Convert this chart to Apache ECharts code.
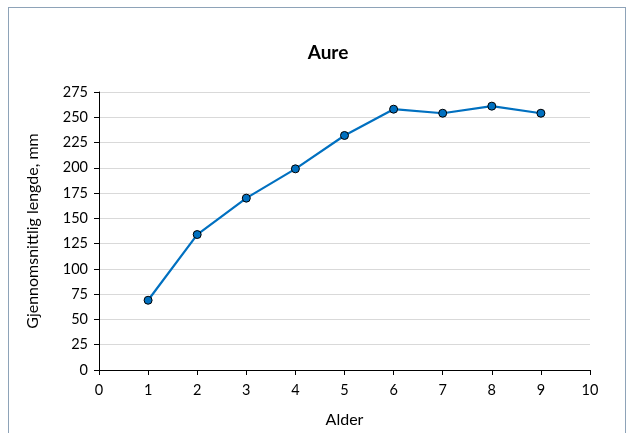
<!DOCTYPE html>
<html><head><meta charset="utf-8">
<script src="https://cdn.jsdelivr.net/npm/echarts@6/dist/echarts.min.js"></script>
<style>html,body{margin:0;padding:0;background:#fff}#c{width:629px;height:433px}
#frame{position:absolute;left:8px;top:7px;width:618px;height:430px;border:1px solid #8EA3B8;box-sizing:border-box;pointer-events:none}</style>
</head><body><div id="c"></div><div id="frame"></div>
<script>
const title = "Aure";
const xName = "Alder";
const yName = "Gjennomsnittlig lengde, mm";
const ages = [1, 2, 3, 4, 5, 6, 7, 8, 9];
const lengths = [69, 134, 170, 199, 232, 258, 254, 261, 254];

const chart = echarts.init(document.getElementById('c'));
const font = "Lato, 'Open Sans', sans-serif";
chart.setOption({
  animation: false,
  title: { text: title, left: 323, top: 38, textAlign: 'center',
    textStyle: { fontFamily: font, fontSize: 19, fontWeight: 'bold', color: '#000' } },
  grid: { left: 99, right: 39, top: 92, bottom: 62, containLabel: false },
  xAxis: {
    type: 'value', min: 0, max: 10, interval: 1,
    name: xName, nameLocation: 'middle', nameGap: 42,
    nameTextStyle: { fontFamily: font, fontSize: 16, color: '#000' },
    axisLine: { show: true, lineStyle: { color: '#000', width: 1 } },
    axisTick: { show: true, length: 5, lineStyle: { color: '#000' } },
    axisLabel: { fontFamily: font, fontSize: 14.5, color: '#000', margin: 13 },
    splitLine: { show: false }
  },
  yAxis: {
    type: 'value', min: 0, max: 275, interval: 25,
    name: yName, nameLocation: 'middle', nameGap: 58,
    nameTextStyle: { fontFamily: font, fontSize: 16, color: '#000' },
    axisLine: { show: true, lineStyle: { color: '#000', width: 1 } },
    axisTick: { show: true, length: 5, lineStyle: { color: '#000' } },
    axisLabel: { fontFamily: font, fontSize: 14.5, color: '#000', margin: 11 },
    splitLine: { show: true, lineStyle: { color: '#D9D9D9', width: 1 } }
  },
  series: [{
    type: 'line',
    data: ages.map((a, i) => [a, lengths[i]]),
    symbol: 'circle', symbolSize: 8,
    lineStyle: { color: '#0070C0', width: 2.2 },
    itemStyle: { color: '#0070C0', borderColor: '#000', borderWidth: 1 }
  }]
});
</script></body></html>
